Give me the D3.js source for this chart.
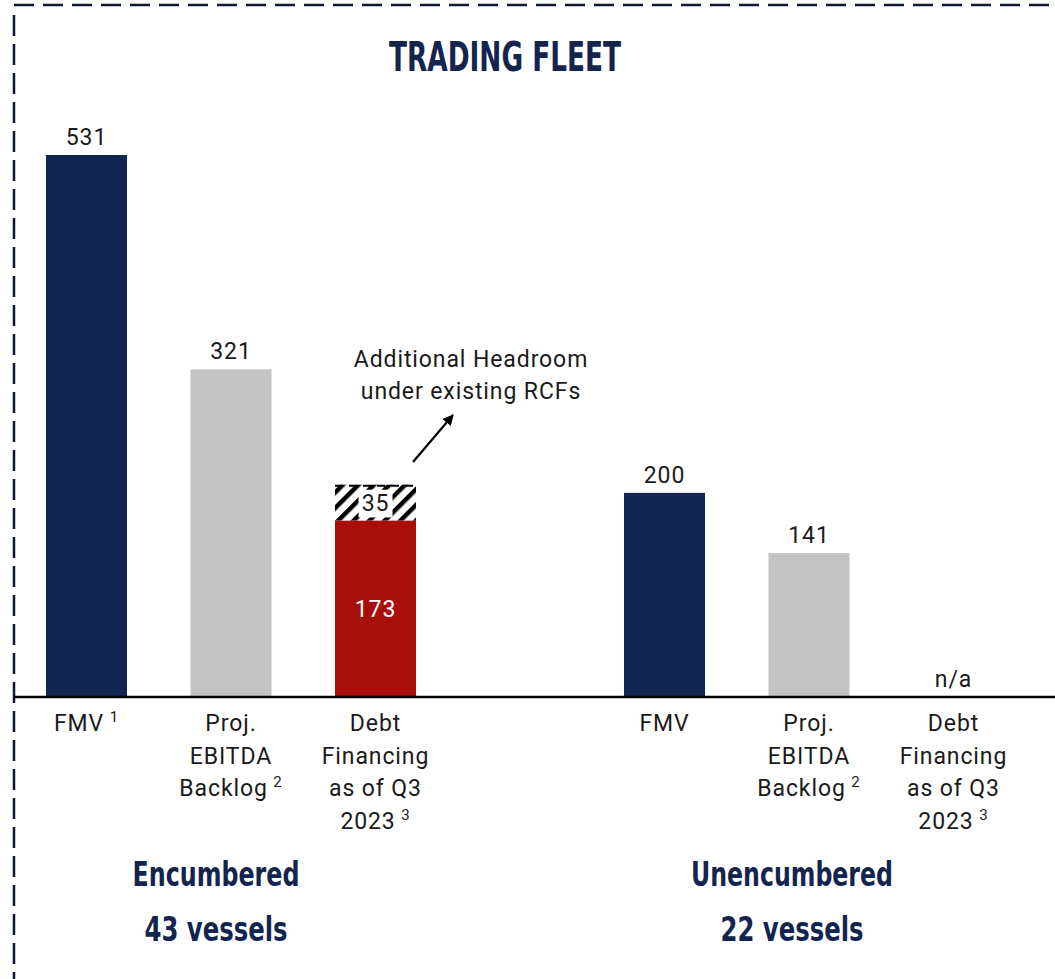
<!DOCTYPE html>
<html><head><meta charset="utf-8">
<script src="https://cdn.jsdelivr.net/npm/d3@7"></script>
<style>
body{margin:0;background:#fff;}
svg{display:block;}
</style></head><body>
<svg id="c" width="1055" height="979"></svg>
<script>
const categories = ["FMV","Proj. EBITDA Backlog","Debt Financing as of Q3 2023","gap","FMV2","Proj. EBITDA Backlog2","Debt Financing as of Q3 20232"];
const labelLines = [["FMV"],["Proj.","EBITDA","Backlog"],["Debt","Financing","as of Q3","2023"],[],["FMV"],["Proj.","EBITDA","Backlog"],["Debt","Financing","as of Q3","2023"]];
const footnotes = ["1","2","3","","","2","3"];
const values = [531,321,173,null,200,141,null];
const headroom = [0,0,35,0,0,0,0];
const barKind = ["navy","gray","red",null,"navy","gray",null];
const groups = ["Encumbered","Unencumbered"];
const groupVessels = ["43 vessels","22 vessels"];

const colors = {navy:"#0f2552", gray:"#c4c4c4", red:"#a80f0b"};
const svg = d3.select("#c");
const FONT = "Roboto, 'Noto Sans', sans-serif";
const TFONT = "'DejaVu Sans Condensed','DejaVu Sans',sans-serif";
const textCol = "#1a1a1a";
const LS = 0.9;

const x = d3.scaleBand().domain(categories).range([46,994]).paddingInner(0.4394).paddingOuter(0);
const y = d3.scaleLinear().domain([0,531]).range([697,155]);

function txt(sel){ return sel.attr("font-family",FONT).attr("font-size",23).attr("letter-spacing",LS).attr("fill",textCol); }

// dashed frame
svg.append("line").attr("x1",14).attr("x2",1055).attr("y1",5).attr("y2",5)
  .attr("stroke","#0d1730").attr("stroke-width",2.5).attr("stroke-dasharray","20,9");
svg.append("line").attr("x1",14).attr("x2",14).attr("y1",15).attr("y2",979)
  .attr("stroke","#0d1730").attr("stroke-width",2.5).attr("stroke-dasharray","21,8");

// title
svg.append("text").attr("x",505).attr("y",71).attr("text-anchor","middle")
  .attr("font-family",TFONT).attr("font-weight","bold").attr("font-size",40)
  .attr("textLength",232).attr("lengthAdjust","spacingAndGlyphs")
  .attr("fill","#13244e").text("TRADING FLEET");

// hatch pattern
const defs = svg.append("defs");
const pat = defs.append("pattern").attr("id","hatch").attr("patternUnits","userSpaceOnUse")
  .attr("width",11).attr("height",11).attr("patternTransform","rotate(45)");
pat.append("rect").attr("width",11).attr("height",11).attr("fill","#fff");
pat.append("rect").attr("x",0).attr("width",4.5).attr("height",11).attr("fill","#000");

// bars
categories.forEach((c,i)=>{
  if(values[i]==null) return;
  svg.append("rect").attr("x",x(c)).attr("width",x.bandwidth())
    .attr("y",y(values[i])).attr("height",y(0)-y(values[i])).attr("fill",colors[barKind[i]]);
  const cx = x(c)+x.bandwidth()/2;
  if(headroom[i]>0){
    const top = y(values[i]+headroom[i]);
    svg.append("rect").attr("x",x(c)).attr("width",x.bandwidth())
      .attr("y",top).attr("height",y(values[i])-top).attr("fill","url(#hatch)");
    svg.append("line").attr("x1",x(c)).attr("x2",x(c)+x.bandwidth()).attr("y1",top+1).attr("y2",top+1)
      .attr("stroke","#000").attr("stroke-width",2).attr("stroke-dasharray","8,6");
    const cy=(top+y(values[i]))/2;
    svg.append("rect").attr("x",cx-17).attr("y",top+5).attr("width",34).attr("height",y(values[i])-top-8).attr("fill","#fff");
    txt(svg.append("text")).attr("x",cx).attr("y",cy+8).attr("text-anchor","middle").text(headroom[i]);
    txt(svg.append("text")).attr("x",cx).attr("y",(y(values[i])+y(0))/2+8).attr("text-anchor","middle")
      .attr("fill","#fff").text(values[i]);
  } else {
    txt(svg.append("text")).attr("x",cx).attr("y",y(values[i])-10).attr("text-anchor","middle").text(values[i]);
  }
});
// n/a
{
  const c = categories[6];
  txt(svg.append("text")).attr("x",x(c)+x.bandwidth()/2).attr("y",y(0)-10).attr("text-anchor","middle").text("n/a");
}

// baseline
svg.append("line").attr("x1",14).attr("x2",1055).attr("y1",y(0)).attr("y2",y(0)).attr("stroke","#000").attr("stroke-width",2.5);

// category labels
categories.forEach((c,i)=>{
  const lines = labelLines[i];
  if(!lines.length) return;
  const cx = x(c)+x.bandwidth()/2;
  const t = txt(svg.append("text")).attr("text-anchor","middle");
  lines.forEach((l,j)=>{
    const ts = t.append("tspan").attr("x",cx).attr("y",731+j*32.5).text(l);
    if(j===lines.length-1 && footnotes[i]){
      ts.text(l+"\u2009");
      ts.append("tspan").attr("font-size",15).attr("dy",-9).text(footnotes[i]);
    }
  });
});

// arrow
defs.append("marker").attr("id","arr").attr("viewBox","0 0 10 10").attr("refX",9).attr("refY",5)
  .attr("markerWidth",5).attr("markerHeight",5).attr("orient","auto")
  .append("path").attr("d","M0,0L10,5L0,10z").attr("fill","#000");
svg.append("line").attr("x1",413).attr("y1",462).attr("x2",453).attr("y2",415)
  .attr("stroke","#000").attr("stroke-width",2.2).attr("marker-end","url(#arr)");
txt(svg.append("text")).attr("text-anchor","middle")
  .selectAll("tspan").data(["Additional Headroom","under existing RCFs"]).join("tspan")
  .attr("x",471).attr("y",(d,j)=>367+j*32).text(d=>d);

// group labels
const gx = [216,792];
const gw = [167,202];
groups.forEach((g,i)=>{
  svg.append("text").attr("x",gx[i]).attr("y",886).attr("text-anchor","middle")
    .attr("font-family",TFONT).attr("font-weight","bold").attr("font-size",34)
    .attr("textLength",gw[i]).attr("lengthAdjust","spacingAndGlyphs").attr("fill","#13244e").text(g);
  svg.append("text").attr("x",gx[i]+ (i?0:0)).attr("y",941).attr("text-anchor","middle")
    .attr("font-family",TFONT).attr("font-weight","bold").attr("font-size",34)
    .attr("textLength",143).attr("lengthAdjust","spacingAndGlyphs").attr("fill","#13244e").text(groupVessels[i]);
});
</script></body></html>
